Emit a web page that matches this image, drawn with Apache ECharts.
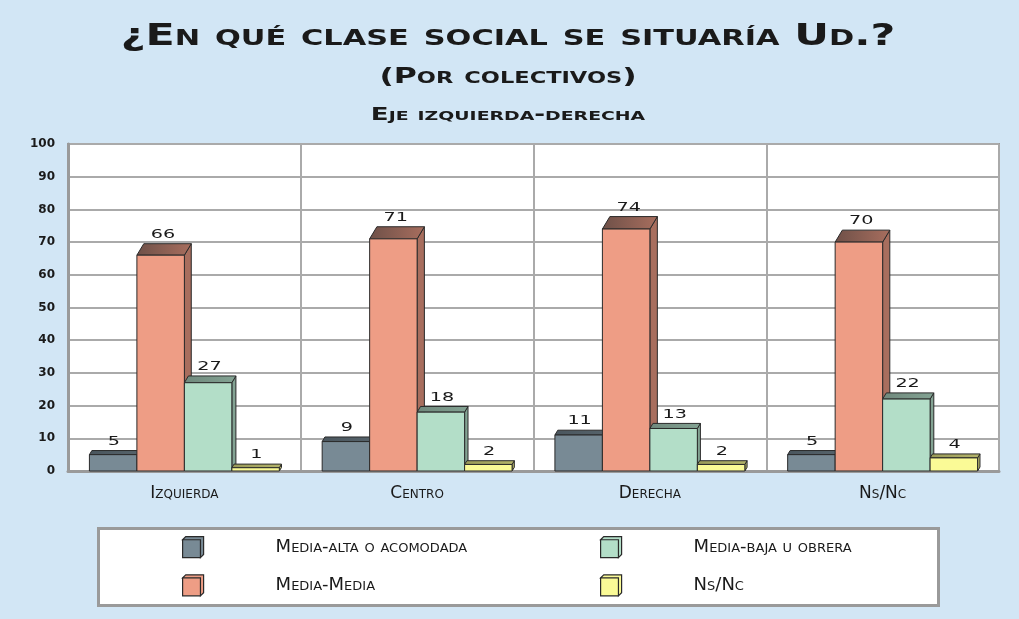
<!DOCTYPE html>
<html>
<head>
<meta charset="utf-8">
<script src="https://cdn.jsdelivr.net/npm/echarts@6/dist/echarts.min.js"></script>
<style>
html,body{margin:0;padding:0;background:#d2e6f5;}
#c{width:1019px;height:619px;}
</style>
</head>
<body>
<div id="c"></div>
<script>
const categories = ['Izquierda', 'Centro', 'Derecha', 'Ns/Nc'];
const seriesNames = ['Media-alta o acomodada', 'Media-Media', 'Media-baja u obrera', 'Ns/Nc'];
const mediaAlta = [5, 9, 11, 5];
const mediaMedia = [66, 71, 74, 70];
const mediaBaja = [27, 18, 13, 22];
const nsNc = [1, 2, 2, 4];
const yTicks = [0, 10, 20, 30, 40, 50, 60, 70, 80, 90, 100];
const titleText = '¿En qué clase social se situaría Ud.?';
const subtitleText = '(Por colectivos)';
const subtitle2Text = 'Eje izquierda-derecha';

const seriesValues = [mediaAlta, mediaMedia, mediaBaja, nsNc];
const palette = [
  {front: '#788a95', top: '#4a565e', side: '#56636b'},
  {front: '#ee9d85', top: '#6e5048', side: '#a86e5e'},
  {front: '#b3dec8', top: '#70897d', side: '#83a393'},
  {front: '#fafa96', top: '#9a9a58', side: '#b4b46a'}
];
const BAR_RATIO = 0.204;
const FONT = '"DejaVu Sans", sans-serif';

function makeRender(si) {
  return function (params, api) {
    const ci = api.value(0), v = api.value(1);
    const base = api.coord([ci, 0]);
    const topP = api.coord([ci, v]);
    const catW = api.size([1, 0])[0];
    const bw = catW * BAR_RATIO;
    const x0 = base[0] - 2 * bw + si * bw;
    const yb = base[1], yt = topP[1];
    const h = yb - yt;
    const dy = 3.5 + 0.037 * h;
    const dx = 0.6 * dy;
    const c = palette[si];
    const stroke = {stroke: '#2a2a2a', lineWidth: 1};
    return {
      type: 'group',
      children: [
        {type: 'polygon', shape: {points: [[x0 + bw, yt], [x0 + bw + dx, yt - dy], [x0 + bw + dx, yb - dy], [x0 + bw, yb]]},
          style: Object.assign({fill: c.side}, stroke)},
        {type: 'polygon', shape: {points: [[x0, yt], [x0 + dx, yt - dy], [x0 + bw + dx, yt - dy], [x0 + bw, yt]]},
          style: Object.assign({fill: {type: 'linear', x: 0, y: 0, x2: 1, y2: 0, colorStops: [{offset: 0, color: c.top}, {offset: 1, color: c.side}]}}, stroke)},
        {type: 'rect', shape: {x: x0, y: yt, width: bw, height: h},
          style: Object.assign({fill: c.front}, stroke)},
        {type: 'text', x: x0 + bw / 2 + dx / 3, y: yt - dy - 3, scaleX: 1.6,
          style: {text: String(v), fill: '#1a1a1a', font: '12px ' + FONT, align: 'center', verticalAlign: 'bottom'}}
      ]
    };
  };
}

const series = seriesValues.map((vals, si) => ({
  type: 'custom',
  name: seriesNames[si],
  itemStyle: {color: palette[si].front},
  renderItem: makeRender(si),
  encode: {x: 0, y: 1},
  data: vals.map((v, i) => [i, v]),
  z: 2 + si
}));

const legendRich = {
  g: {width: 67},
  n: {fontSize: 18, fontFamily: FONT, fontStyle: 'small-caps', color: '#1a1a1a'}
};
const ICON3D = 'path://M0,3L17,3L17,20L0,20Z M0,3L3,0L20,0L20,17L17,20L17,3Z';
function legendCfg(left, data) {
  return {
    orient: 'vertical', left: left, top: 536, itemGap: 16, padding: 0,
    itemWidth: 21, itemHeight: 21, icon: ICON3D,
    itemStyle: {borderColor: '#2a2a2a', borderWidth: 1.2},
    data: data, z: 10,
    formatter: n => '{g|}{n|' + n + '}',
    textStyle: {rich: legendRich},
    selectedMode: false
  };
}

function titleEl(text, y, size, sx) {
  return {type: 'text', x: 508, y: y, scaleX: sx, z: 5,
    style: {text: text, fill: '#1a1a1a', font: 'small-caps bold ' + size + 'px ' + FONT, align: 'center', verticalAlign: 'middle'}};
}

const chart = echarts.init(document.getElementById('c'), null, {renderer: 'canvas'});
chart.setOption({
  backgroundColor: '#d2e6f5',
  animation: false,
  graphic: [
    titleEl(titleText, 37, 31, 1.38),
    titleEl(subtitleText, 78, 21, 1.5),
    titleEl(subtitle2Text, 115, 18, 1.45),
    {type: 'rect', left: 97, top: 527, z: 1,
      shape: {width: 840, height: 77},
      style: {fill: '#ffffff', stroke: '#9a9a9a', lineWidth: 3}}
  ],
  legend: [
    legendCfg(182, [seriesNames[0], seriesNames[1]]),
    legendCfg(600, [seriesNames[2], seriesNames[3]])
  ],
  grid: {left: 68, right: 20, top: 144, bottom: 148, show: true, backgroundColor: '#ffffff', borderColor: '#9a9a9a', borderWidth: 2},
  xAxis: {
    type: 'category', data: categories,
    axisLine: {show: true, lineStyle: {color: '#9a9a9a', width: 3}},
    axisTick: {show: false},
    splitLine: {show: true, lineStyle: {color: '#aaaaaa', width: 2}},
    axisLabel: {margin: 14, fontSize: 17, fontFamily: FONT, fontStyle: 'small-caps', color: '#1a1a1a'}
  },
  yAxis: {
    type: 'value', min: yTicks[0], max: yTicks[yTicks.length - 1], interval: yTicks[1] - yTicks[0],
    axisLine: {show: true, lineStyle: {color: '#9a9a9a', width: 3}},
    axisTick: {show: false},
    splitLine: {show: true, lineStyle: {color: '#aaaaaa', width: 2}},
    axisLabel: {margin: 13, fontSize: 12, fontWeight: 'bold', fontFamily: FONT, color: '#1a1a1a'}
  },
  series: series
});
</script>
</body>
</html>
